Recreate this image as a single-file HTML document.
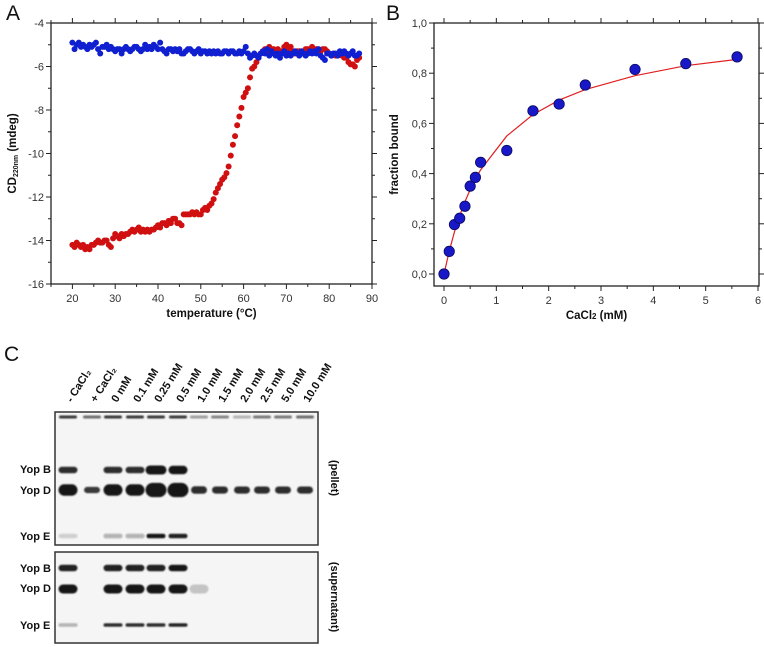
<!DOCTYPE html>
<html><head><meta charset="utf-8">
<style>
html,body{margin:0;padding:0;background:#fff;}
svg{display:block;font-family:"Liberation Sans",sans-serif;}
.tk{font-size:11px;fill:#333;}
.tt{font-size:11.5px;font-weight:bold;fill:#111;}
.pl{font-size:21px;fill:#111;}
.bl{font-size:11px;font-weight:bold;fill:#111;}
</style></head>
<body>
<svg id="fig" width="764" height="647" viewBox="0 0 764 647">
<defs>
<filter id="blur1" x="-20%" y="-50%" width="140%" height="200%"><feGaussianBlur stdDeviation="0.8"/></filter>
</defs>
<g id="panelA"></g>
<g id="panelB"></g>
<g id="panelC"></g>
</svg>
<script>
// ---------- Panel A data ----------
const tempRed = [20,20.5,21,21.5,22,22.5,23,23.5,24,24.5,25,25.5,26,26.5,27,27.5,28,28.5,29,29.5,30,30.5,31,31.5,32,32.5,33,33.5,34,34.5,35,35.5,36,36.5,37,37.5,38,38.5,39,39.5,40,40.5,41,41.5,42,42.5,43,43.5,44,44.5,45,45.5,46,46.5,47,47.5,48,48.5,49,49.5,50,50.5,51,51.5,52,52.5,53,53.5,54,54.5,55,55.5,56,56.5,57,57.5,58,58.5,59,59.5,60,60.5,61,61.5,62,62.5,63,63.5,64,64.5,65,65.5,66,66.5,67,67.5,68,68.5,69,69.5,70,70.5,71,71.5,72,72.5,73,73.5,74,74.5,75,75.5,76,76.5,77,77.5,78,78.5,79,79.5,80,80.5,81,81.5,82,82.5,83,83.5,84,84.5,85,85.5,86,86.5,87];
const cdRed = [-14.2,-14.3,-14.1,-14.2,-14.3,-14.2,-14.4,-14.3,-14.4,-14.2,-14.2,-14.1,-14.0,-14.1,-14.1,-14.0,-14.0,-14.2,-14.3,-13.9,-13.7,-13.8,-13.9,-13.7,-13.8,-13.7,-13.7,-13.6,-13.5,-13.6,-13.5,-13.4,-13.6,-13.5,-13.6,-13.5,-13.6,-13.5,-13.5,-13.4,-13.3,-13.4,-13.2,-13.2,-13.3,-13.1,-13.2,-13.0,-13.0,-13.2,-13.2,-13.3,-12.8,-12.8,-12.8,-12.8,-12.7,-12.8,-12.7,-12.8,-12.8,-12.6,-12.5,-12.6,-12.4,-12.3,-12.1,-11.8,-11.6,-11.4,-11.2,-11.1,-10.9,-10.6,-10.1,-9.6,-9.2,-8.7,-8.3,-7.9,-7.4,-7.2,-7.0,-6.5,-6.1,-6.0,-5.8,-5.6,-5.4,-5.3,-5.2,-5.3,-5.1,-5.2,-5.2,-5.3,-5.2,-5.4,-5.3,-5.1,-5.0,-5.2,-5.1,-5.3,-5.4,-5.3,-5.3,-5.4,-5.3,-5.2,-5.2,-5.3,-5.1,-5.2,-5.2,-5.3,-5.3,-5.2,-5.2,-5.3,-5.4,-5.5,-5.4,-5.5,-5.5,-5.4,-5.5,-5.6,-5.6,-5.8,-5.9,-5.9,-6.0,-5.7,-5.6];
const tempBlue = [20,20.5,21,21.5,22,22.5,23,23.5,24,24.5,25,25.5,26,26.5,27,27.5,28,28.5,29,29.5,30,30.5,31,31.5,32,32.5,33,33.5,34,34.5,35,35.5,36,36.5,37,37.5,38,38.5,39,39.5,40,40.5,41,41.5,42,42.5,43,43.5,44,44.5,45,45.5,46,46.5,47,47.5,48,48.5,49,49.5,50,50.5,51,51.5,52,52.5,53,53.5,54,54.5,55,55.5,56,56.5,57,57.5,58,58.5,59,59.5,60,60.5,61,61.5,62,62.5,63,63.5,64,64.5,65,65.5,66,66.5,67,67.5,68,68.5,69,69.5,70,70.5,71,71.5,72,72.5,73,73.5,74,74.5,75,75.5,76,76.5,77,77.5,78,78.5,79,79.5,80,80.5,81,81.5,82,82.5,83,83.5,84,84.5,85,85.5,86,86.5,87];
const cdBlue = [-4.9,-5.2,-5.0,-4.9,-5.1,-5.0,-5.1,-5.2,-5.0,-5.1,-5.0,-4.9,-5.2,-5.4,-5.1,-5.1,-5.0,-5.2,-5.1,-5.2,-5.3,-5.2,-5.2,-5.4,-5.2,-5.1,-5.2,-5.3,-5.2,-5.1,-5.1,-5.2,-5.3,-5.2,-5.0,-5.2,-5.1,-5.2,-5.0,-5.1,-5.2,-4.9,-5.2,-5.3,-5.4,-5.2,-5.2,-5.3,-5.2,-5.3,-5.2,-5.4,-5.4,-5.3,-5.2,-5.2,-5.3,-5.4,-5.3,-5.2,-5.4,-5.3,-5.3,-5.4,-5.3,-5.4,-5.3,-5.4,-5.3,-5.4,-5.4,-5.3,-5.3,-5.4,-5.3,-5.3,-5.4,-5.4,-5.3,-5.4,-5.3,-5.1,-5.4,-5.6,-5.5,-5.4,-5.5,-5.6,-5.4,-5.3,-5.4,-5.2,-5.5,-5.3,-5.4,-5.5,-5.4,-5.6,-5.4,-5.3,-5.5,-5.4,-5.5,-5.4,-5.3,-5.4,-5.5,-5.3,-5.4,-5.5,-5.4,-5.3,-5.4,-5.3,-5.4,-5.2,-5.5,-5.6,-5.7,-5.4,-5.4,-5.5,-5.4,-5.4,-5.5,-5.3,-5.4,-5.3,-5.4,-5.5,-5.4,-5.3,-5.5,-5.5,-5.4];
const aXTicks = [20,30,40,50,60,70,80,90];
const aYTicks = [-16,-14,-12,-10,-8,-6,-4];

// ---------- Panel B data ----------
const caConc = [0,0.1,0.2,0.3,0.4,0.5,0.6,0.7,1.2,1.7,2.2,2.7,3.65,4.62,5.6];
const fracBound = [0,0.09,0.197,0.222,0.27,0.35,0.385,0.445,0.492,0.65,0.677,0.753,0.815,0.838,0.865];
const fitY = [0,0.091,0.168,0.233,0.288,0.336,0.378,0.415,0.55,0.635,0.693,0.735,0.79,0.83,0.855];
const bXTicks = [0,1,2,3,4,5,6];
const bYTicks = [0,0.2,0.4,0.6,0.8,1.0];
const bYLabels = ["0,0","0,2","0,4","0,6","0,8","1,0"];

// ---------- Panel C data ----------
const laneLabels = ["- CaCl\u2082","+ CaCl\u2082","0 mM","0.1 mM","0.25 mM","0.5 mM","1.0 mM","1.5 mM","2.0 mM","2.5 mM","5.0 mM","10.0 mM"];
const pelletTop = [0.85,0.6,0.85,0.85,0.85,0.85,0.4,0.5,0.3,0.55,0.55,0.6];
const pelletB = [0.9,0,0.9,0.9,1,1,0,0,0,0,0,0];
const pelletD = [1,0.85,1,1,1,1,0.9,0.9,0.9,0.9,0.9,0.9];
const pelletE = [0.15,0,0.3,0.3,1,0.95,0,0,0,0,0,0];
const superB = [0.95,0,0.95,0.95,0.95,1,0,0,0,0,0,0];
const superD = [1,0,1,1,1,1,0.2,0,0,0,0,0];
const superE = [0.3,0,0.9,0.9,0.9,0.95,0,0,0,0,0,0];
const pelletBSize = [1,0,1,1,1.4,1.3,0,0,0,0,0,0];
const pelletDSize = [1.2,0.65,1.2,1.2,1.5,1.5,0.8,0.75,0.75,0.75,0.75,0.75];

const NS = "http://www.w3.org/2000/svg";
function mk(parent, tag, attrs, text){
  const e = document.createElementNS(NS, tag);
  for (const k in attrs) e.setAttribute(k, attrs[k]);
  if (text !== undefined) e.textContent = text;
  parent.appendChild(e);
  return e;
}

// ===== Panel A =====
(function(){
  const g = document.getElementById('panelA');
  const L=51,R=372,T=23,B=284;
  const x = v => L + (v-15)/(90-15)*(R-L);
  const y = v => T + (-4 - v)/(12)*(B-T);
  const lt = mk(g,'text',{x:6,y:20,class:'pl'},'A');
  
  
  const fr = mk(g,'rect',{x:L,y:T,width:R-L,height:B-T,fill:'none',stroke:'#222','stroke-width':1.3});
  
  
  for (let v=15; v<=90; v+=5){
    const major = v%10===0;
    mk(g,'line',{x1:x(v),x2:x(v),y1:B,y2:B+(major?5:3),stroke:'#222'});
    mk(g,'line',{x1:x(v),x2:x(v),y1:T,y2:T-(major?5:3),stroke:'#222'});
  }
  aXTicks.forEach(v=>{
    const t = mk(g,'text',{x:x(v),y:B+18,'text-anchor':'middle',class:'tk'},String(v));
    
    
  });
  for (let v=-16; v<=-4; v+=1){
    const major = v%2===0;
    mk(g,'line',{x1:L,x2:L-(major?5:3),y1:y(v),y2:y(v),stroke:'#222'});
    mk(g,'line',{x1:R,x2:R+(major?5:3),y1:y(v),y2:y(v),stroke:'#222'});
  }
  aYTicks.forEach(v=>{
    const t = mk(g,'text',{x:L-7,y:y(v)+4,'text-anchor':'end',class:'tk'},String(v));
    
    
  });
  const xt = mk(g,'text',{x:(L+R)/2,y:B+33,'text-anchor':'middle',class:'tt'},'temperature (°C)');
  
  
  const yt = mk(g,'text',{x:0,y:0,'text-anchor':'middle',class:'tt',transform:`translate(16,${(T+B)/2}) rotate(-90)`});
  
  
  yt.innerHTML = 'CD<tspan font-size="7" dy="2">220nm</tspan><tspan dy="-2"> (mdeg)</tspan>';
  const sr = mk(g,'g',{});
  
  
  tempRed.forEach((t,i)=>{
    const c = mk(sr,'circle',{cx:x(t),cy:y(cdRed[i]),r:3,fill:'#d01010'});
    
    
  });
  const sb = mk(g,'g',{});
  
  
  tempBlue.forEach((t,i)=>{
    const c = mk(sb,'circle',{cx:x(t),cy:y(cdBlue[i]),r:3,fill:'#1020d0'});
    
    
  });
})();

// ===== Panel B =====
(function(){
  const g = document.getElementById('panelB');
  const L=434,R=759,T=23,B=286;
  const x0=444, x6=758;
  const x = v => x0 + v/6*(x6-x0);
  const y = v => 274 - v*(274-23);
  const lt = mk(g,'text',{x:386,y:20,class:'pl'},'B');
  
  
  const fr = mk(g,'rect',{x:L,y:T,width:R-L,height:B-T,fill:'none',stroke:'#222','stroke-width':1.3});
  
  
  for (let v=0; v<=6; v+=0.5){
    const major = Math.abs(v-Math.round(v))<1e-6;
    mk(g,'line',{x1:x(v),x2:x(v),y1:B,y2:B+(major?5:3),stroke:'#222'});
    mk(g,'line',{x1:x(v),x2:x(v),y1:T,y2:T-(major?5:3),stroke:'#222'});
  }
  bXTicks.forEach(v=>{
    const t = mk(g,'text',{x:x(v),y:B+18,'text-anchor':'middle',class:'tk'},String(v));
    
    
  });
  for (let i=0; i<=10; i++){
    const v=i/10, major=i%2===0;
    mk(g,'line',{x1:L,x2:L-(major?5:3),y1:y(v),y2:y(v),stroke:'#222'});
    mk(g,'line',{x1:R,x2:R+(major?5:3),y1:y(v),y2:y(v),stroke:'#222'});
  }
  bYTicks.forEach((v,i)=>{
    const t = mk(g,'text',{x:L-7,y:y(v)+4,'text-anchor':'end',class:'tk'},bYLabels[i]);
    
    
  });
  const xt = mk(g,'text',{x:(L+R)/2,y:B+33,'text-anchor':'middle',class:'tt'});
  
  
  xt.innerHTML = 'CaCl<tspan font-size="8">2</tspan> (mM)';
  const yt = mk(g,'text',{x:0,y:0,'text-anchor':'middle',class:'tt',transform:`translate(398,${(T+B)/2}) rotate(-90)`},'fraction bound');
  
  
  const pts = caConc.map((c,i)=>x(c)+','+y(fitY[i])).join(' ');
  const fl = mk(g,'polyline',{points:pts,fill:'none',stroke:'#e02020','stroke-width':1.2});
  
  
  caConc.forEach((c,i)=>{
    const p = mk(g,'circle',{cx:x(c),cy:y(fracBound[i]),r:5.2,fill:'#1818c8',stroke:'#0a0a60','stroke-width':0.8});
    
    
  });
})();

// ===== Panel C =====
(function(){
  const g = document.getElementById('panelC');
  const lanes = [68,92,113,135,156,178,199,220,242,262,283,305];
  const lt = mk(g,'text',{x:4,y:361,class:'pl'},'C');
  
  
  laneLabels.forEach((s,i)=>{
    const t = mk(g,'text',{x:0,y:0,class:'bl','font-size':'10',transform:`translate(${lanes[i]+4},403) rotate(-58)`},s);
    
    
  });
  function box(y1,y2,name){
    const r = mk(g,'rect',{x:55,y:y1,width:263,height:y2-y1,fill:'#f5f5f5',stroke:'#333','stroke-width':1.5});
    
    
  }
  box(412,545,'pellet-blot');
  box(552,643,'supernatant-blot');
  function bands(arr, yc, baseH, sizes, w){
    const gg = mk(g,'g',{filter:'url(#blur1)'});
    
    
    arr.forEach((v,i)=>{
      if (v<=0) return;
      const s = sizes ? sizes[i] : 1;
      const bw = (w||19) + (s>1.3?2:0) - (s<0.9?3:0);
      const h = baseH*s;
      const e = mk(gg,'rect',{x:lanes[i]-bw/2,y:yc-h/2,width:bw,height:h,rx:Math.min(bw/2,h/2),fill:'#141414','fill-opacity':v});
      
      
    });
  }
  bands(pelletTop,417,3,null,18);
  bands(pelletB,470,6.5,pelletBSize);
  bands(pelletD,490,9.5,pelletDSize);
  bands(pelletE,536,4.5,null);
  bands(superB,568,6.5,null);
  bands(superD,589,9,null);
  bands(superE,625,3.5,null);
  const rowLab = [["Yop B",473],["Yop D",494],["Yop E",540],["Yop B",572],["Yop D",592],["Yop E",629]];
  rowLab.forEach(r=>{
    const t = mk(g,'text',{x:20,y:r[1],class:'bl'},r[0]);
    
    
  });
  const p1 = mk(g,'text',{x:0,y:0,'text-anchor':'middle',class:'bl','font-size':'10',transform:'translate(331,478) rotate(90)'},'(pellet)');
  
  
  const p2 = mk(g,'text',{x:0,y:0,'text-anchor':'middle',class:'bl','font-size':'10',transform:'translate(331,597) rotate(90)'},'(supernatant)');
  
  
})();
</script>
</body></html>
